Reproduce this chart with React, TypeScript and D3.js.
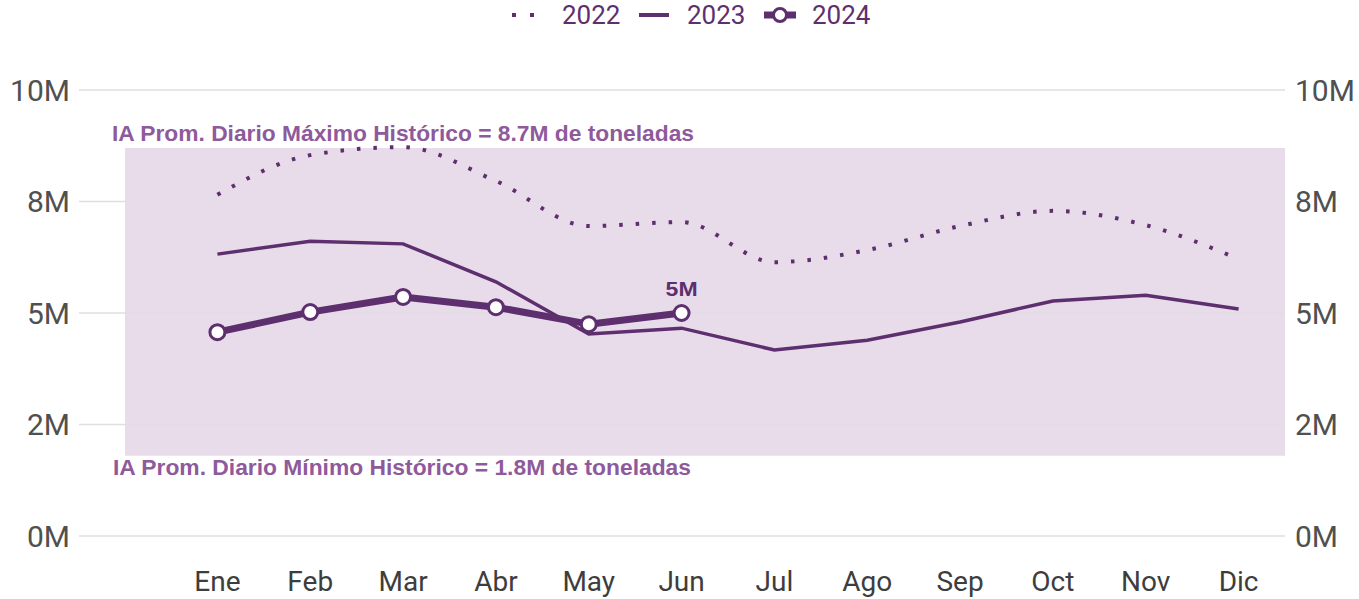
import React from "react";
import * as d3 from "d3";

const months = ["Ene", "Feb", "Mar", "Abr", "May", "Jun", "Jul", "Ago", "Sep", "Oct", "Nov", "Dic"];
const values2022 = [7.65, 8.54, 8.72, 7.96, 6.95, 7.04, 6.14, 6.41, 6.95, 7.29, 6.97, 6.21];
const values2023 = [6.32, 6.61, 6.55, 5.7, 4.53, 4.66, 4.17, 4.39, 4.8, 5.27, 5.4, 5.09];
const values2024 = [4.57, 5.02, 5.36, 5.13, 4.75, 5.0];
const tickValues = [0, 2.5, 5, 7.5, 10];
const tickLabels = ["0M", "2M", "5M", "8M", "10M"];
const bandMax = 8.7;
const bandMin = 1.8;
const maxLabel = "IA Prom. Diario Máximo Histórico = 8.7M de toneladas";
const minLabel = "IA Prom. Diario Mínimo Histórico = 1.8M de toneladas";
const lastLabel = "5M";

const W = 1359;
const H = 599;
const DARK = "#5e2f6e";
const ANNO = "#8e5a9c";
const BAND = "#e8dcea";
const GRID = "#e2dde3";
const AXIS = "#505050";

export default function App() {
  const x = d3.scalePoint<string>().domain(months).range([171, 1285]).padding(0.5);
  const y = d3.scaleLinear().domain([0, 10]).range([536, 90]);

  const line2022 = d3
    .line<number>()
    .x((_, i) => x(months[i]) as number)
    .y((d) => y(d))
    .curve(d3.curveMonotoneX);
  const lineLin = d3
    .line<number>()
    .x((_, i) => x(months[i]) as number)
    .y((d) => y(d));

  const font = "Roboto, 'Noto Sans', sans-serif";
  const annoFont = "'Liberation Sans', Arial, sans-serif";

  return (
    <svg width={W} height={H} style={{ position: "absolute", left: 0, top: 0, background: "#fff" }}>
      {/* band */}
      <rect x={125} y={y(bandMax)} width={1285 - 125} height={y(bandMin) - y(bandMax)} fill={BAND} />
      {/* grid */}
      {tickValues.map((t, i) => (
        <g key={i}>
          <line x1={79} x2={1285} y1={y(t)} y2={y(t)} stroke={GRID} strokeWidth={1.5} />
          <text x={70} y={y(t)} dy="0.36em" textAnchor="end" fontFamily={font} fontSize={30} fill={AXIS}>
            {tickLabels[i]}
          </text>
          <text x={1295} y={y(t)} dy="0.36em" textAnchor="start" fontFamily={font} fontSize={30} fill={AXIS}>
            {tickLabels[i]}
          </text>
        </g>
      ))}
      {/* x labels */}
      {months.map((m) => (
        <text key={m} x={x(m)} y={591} textAnchor="middle" fontFamily={font} fontSize={28} fill="#3d3d3d">
          {m}
        </text>
      ))}
      {/* annotations */}
      <text x={112} y={141} fontFamily={annoFont} fontWeight="bold" fontSize={22} fill={ANNO}
        textLength={582} lengthAdjust="spacingAndGlyphs">
        {maxLabel}
      </text>
      <text x={113} y={475} fontFamily={annoFont} fontWeight="bold" fontSize={22} fill={ANNO}
        textLength={578} lengthAdjust="spacingAndGlyphs">
        {minLabel}
      </text>
      {/* 2022 */}
      <path d={line2022(values2022) || ""} fill="none" stroke={DARK} strokeWidth={4} strokeDasharray="3.5 13" />
      {/* 2023 */}
      <path d={lineLin(values2023) || ""} fill="none" stroke={DARK} strokeWidth={3.5} />
      {/* 2024 */}
      <path d={lineLin(values2024) || ""} fill="none" stroke={DARK} strokeWidth={7} strokeLinejoin="round" />
      {values2024.map((v, i) => (
        <circle key={i} cx={x(months[i])} cy={y(v)} r={7.5} fill="#fff" stroke={DARK} strokeWidth={3} />
      ))}
      <text
        x={x(months[values2024.length - 1])}
        y={y(values2024[values2024.length - 1]) - 17}
        textAnchor="middle"
        fontFamily={annoFont}
        fontWeight="bold"
        fontSize={21}
        textLength={32}
        lengthAdjust="spacingAndGlyphs"
        fill={DARK}
      >
        {lastLabel}
      </text>
      {/* legend */}
      <g>
        <rect x={512} y={13} width={4} height={4} fill={DARK} />
        <rect x={530} y={13} width={4} height={4} fill={DARK} />
        <text x={562} y={15} dy="0.36em" fontFamily={font} fontSize={26} fill={DARK}>
          2022
        </text>
        <line x1={639} x2={669} y1={15} y2={15} stroke={DARK} strokeWidth={4} />
        <text x={687} y={15} dy="0.36em" fontFamily={font} fontSize={26} fill={DARK}>
          2023
        </text>
        <line x1={764} x2={796} y1={15} y2={15} stroke={DARK} strokeWidth={7} />
        <circle cx={780} cy={15} r={6.5} fill="#fff" stroke={DARK} strokeWidth={3} />
        <text x={812} y={15} dy="0.36em" fontFamily={font} fontSize={26} fill={DARK}>
          2024
        </text>
      </g>
    </svg>
  );
}
